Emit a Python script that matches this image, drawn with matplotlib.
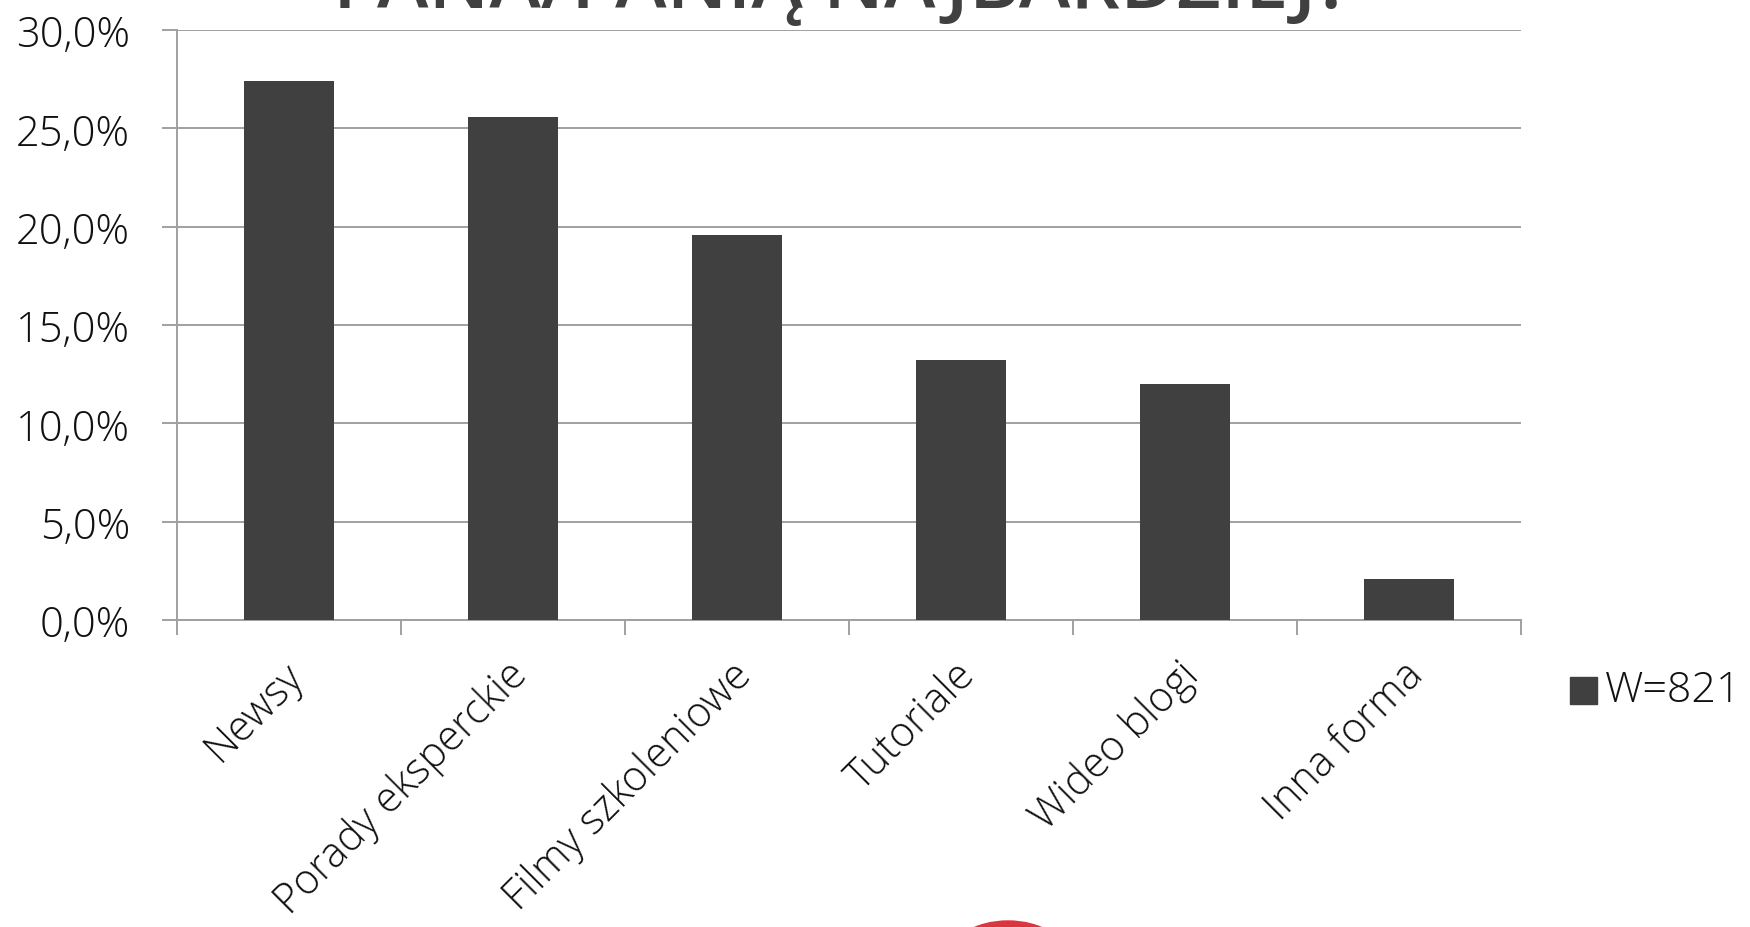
import matplotlib.pyplot as plt
import matplotlib.transforms as mtransforms
from matplotlib.patches import Ellipse, Rectangle
from matplotlib.ticker import FuncFormatter, FixedLocator

categories = ["Newsy", "Porady eksperckie", "Filmy szkoleniowe",
              "Tutoriale", "Wideo blogi", "Inna forma"]
values = [27.4, 25.6, 19.6, 13.2, 12.0, 2.1]
series_name = "W=821"
title = "PANA/PANIĄ NAJBARDZIEJ?"

plt.rcParams['font.family'] = ['Open Sans', 'DejaVu Sans']
plt.rcParams['font.weight'] = 'light'
W, H = 1750, 928
fig = plt.figure(figsize=(W / 100, H / 100), dpi=100)
ax = fig.add_axes([177 / W, 1 - 621 / H, (1521 - 177) / W, (621 - 31) / H])

grid_c = '#a0a0a0'
txt_c = '#111111'
x = list(range(len(categories)))
ax.bar(x, values, width=0.4, color='#404040', label=series_name, zorder=3)

ax.set_xlim(-0.5, len(categories) - 0.5)
ax.set_ylim(0, 30)
ax.set_yticks([0, 5, 10, 15, 20, 25, 30])
ax.yaxis.set_major_formatter(FuncFormatter(lambda v, p: f"{v:.1f}%".replace('.', ',')))
ax.grid(axis='y', color=grid_c, linewidth=1.4, zorder=0)
ax.tick_params(axis='y', length=10.8, width=1.4, color=grid_c, pad=23,
               labelsize=30, labelcolor=txt_c)

# category boundaries as tick marks, labels at centres
ax.xaxis.set_major_locator(FixedLocator([i - 0.5 for i in range(len(categories) + 1)]))
ax.tick_params(axis='x', which='major', length=10.8, width=1.4, color=grid_c, labelbottom=False)
ax.tick_params(axis='x', which='minor', length=0, pad=24)
ax.set_xticks(x, minor=True)
ax.set_xticklabels(categories, minor=True, rotation=45, ha='right',
                   rotation_mode='anchor', fontsize=30, color=txt_c)
shift = mtransforms.ScaledTranslation(-7 / 100, 0, fig.dpi_scale_trans)
for lbl in ax.get_xticklabels(minor=True):
    lbl.set_transform(lbl.get_transform() + shift)

for s in ['top', 'right']:
    ax.spines[s].set_visible(False)
for s in ['left', 'bottom']:
    ax.spines[s].set_color(grid_c)
    ax.spines[s].set_linewidth(1.4)

# legend
fig.patches.append(Rectangle((1570 / W, 1 - 705 / H), 27 / W, 27 / H,
                             transform=fig.transFigure, color='#404040'))
fig.text(1605 / W, 1 - 691 / H, series_name, fontsize=31, color=txt_c, va='center')

# title, mostly cut off above the image
fig.text(842 / W, 1 - 8 / H, title, fontsize=56, fontweight='semibold', color='#404040',
         ha='center', va='baseline')

# logo peeking at the bottom
fig.patches.append(Ellipse((1008 / W, 1 - 960 / H), 120 / W, 76 / H,
                           transform=fig.transFigure, color='#d9363e'))

fig.savefig('out.png', dpi=100)
